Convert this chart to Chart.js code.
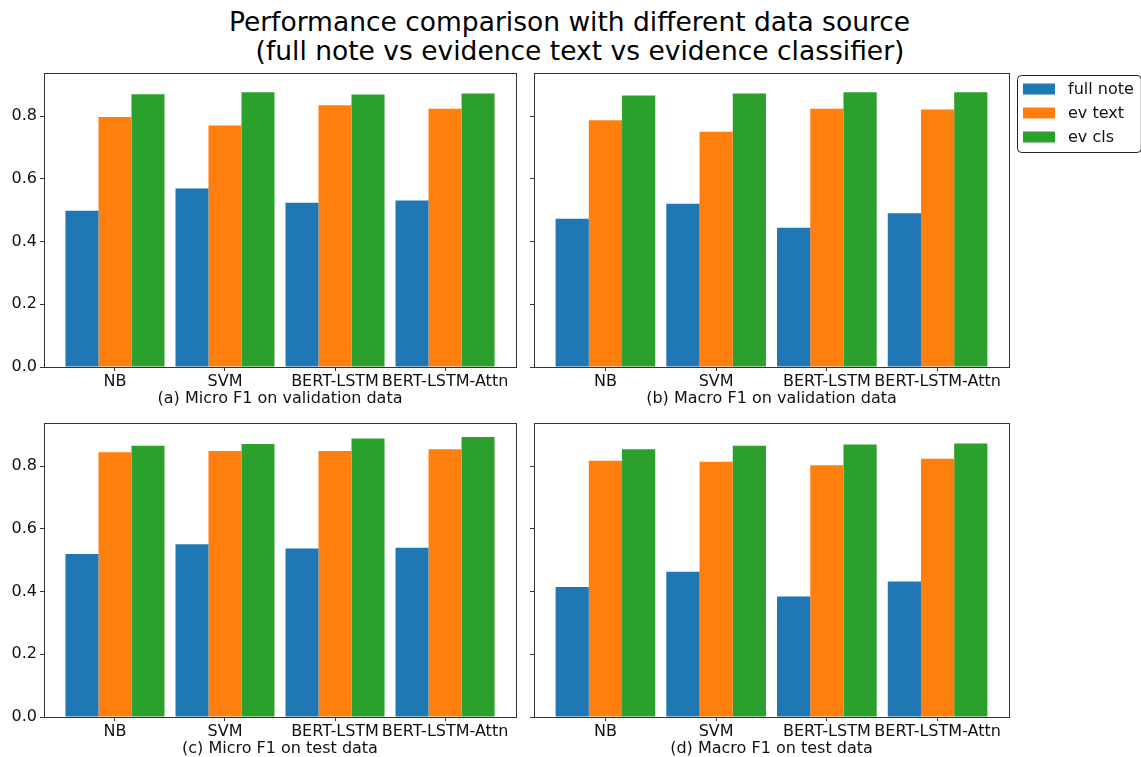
<!DOCTYPE html>
<html>
<head>
<meta charset="utf-8">
<script src="https://cdn.jsdelivr.net/npm/chart.js@4.4.1/dist/chart.umd.min.js"></script>
<style>
  html, body { margin: 0; padding: 0; background: #fff; }
  body { position: relative; width: 1141px; height: 757px; overflow: hidden; font-family: 'DejaVu Sans', sans-serif; }
  canvas { position: absolute; }
  .title { position: absolute; left: 0; text-align: center; font-size: 26.5px; line-height: 28.5px; color: #000; white-space: pre; }
</style>
</head>
<body>
<div class="title" style="top:8px;width:1139px">Performance comparison with different data source</div>
<div class="title" style="top:36.5px;width:1160px">(full note vs evidence text vs evidence classifier)</div>
<canvas id="panelA" width="520" height="348" style="left:0;top:60px"></canvas>
<canvas id="panelB" width="651" height="348" style="left:490px;top:60px"></canvas>
<canvas id="panelC" width="520" height="348" style="left:0;top:410px"></canvas>
<canvas id="panelD" width="651" height="348" style="left:490px;top:410px"></canvas>
<script>
// Models on the x axis and the three data sources compared
const categories = ['NB', 'SVM', 'BERT-LSTM', 'BERT-LSTM-Attn'];
const seriesNames = ['full note', 'ev text', 'ev cls'];
const seriesColors = ['#1f77b4', '#ff7f0e', '#2ca02c'];

// (a) Micro F1, validation
const microValFull = [0.498, 0.569, 0.524, 0.531];
const microValText = [0.797, 0.770, 0.835, 0.824];
const microValCls  = [0.870, 0.876, 0.869, 0.872];
// (b) Macro F1, validation
const macroValFull = [0.473, 0.521, 0.444, 0.490];
const macroValText = [0.787, 0.750, 0.824, 0.821];
const macroValCls  = [0.866, 0.872, 0.876, 0.876];
// (c) Micro F1, test
const microTestFull = [0.520, 0.551, 0.537, 0.540];
const microTestText = [0.844, 0.848, 0.848, 0.854];
const microTestCls  = [0.865, 0.871, 0.888, 0.893];
// (d) Macro F1, test
const macroTestFull = [0.415, 0.463, 0.384, 0.432];
const macroTestText = [0.817, 0.814, 0.803, 0.824];
const macroTestCls  = [0.854, 0.865, 0.869, 0.872];

const captions = [
  '(a) Micro F1 on validation data',
  '(b) Macro F1 on validation data',
  '(c) Micro F1 on test data',
  '(d) Macro F1 on test data'
];

const panels = [
  { id: 'panelA', caption: captions[0], series: [microValFull, microValText, microValCls], yLabels: true,  legend: false, padRight: 4 },
  { id: 'panelB', caption: captions[1], series: [macroValFull, macroValText, macroValCls], yLabels: false, legend: true,  padRight: 132 },
  { id: 'panelC', caption: captions[2], series: [microTestFull, microTestText, microTestCls], yLabels: true,  legend: false, padRight: 4 },
  { id: 'panelD', caption: captions[3], series: [macroTestFull, macroTestText, macroTestCls], yLabels: false, legend: false, padRight: 132 }
];

// Shared y range: 5% headroom above the tallest bar
const allValues = panels.flatMap(p => p.series.flat());
const yMax = Math.max(...allValues) * 1.05;

// Bars of width 0.3 around integer positions, 5% margin on the x range
const groupWidth = 0.9;
const n = categories.length;
const xSpan = (n - 1) + groupWidth;
const xMin = -groupWidth / 2 - 0.05 * xSpan;
const xMax = (n - 1) + groupWidth / 2 + 0.05 * xSpan;

const textColor = '#111';
const axisColor = '#333';

// Full box around the plotting area
const framePlugin = {
  id: 'frame',
  afterDatasetsDraw(chart) {
    const { ctx, chartArea: a } = chart;
    ctx.save();
    ctx.strokeStyle = axisColor;
    ctx.lineWidth = 1;
    const l = Math.round(a.left) + 0.5, t = Math.round(a.top) + 0.5;
    const r = Math.round(a.right) + 0.5, b = Math.round(a.bottom) + 0.5;
    ctx.strokeRect(l, t, r - l, b - t);
    ctx.restore();
  }
};

// Framed legend placed to the right of the plotting area
const boxLegendPlugin = {
  id: 'boxLegend',
  afterDraw(chart) {
    const { ctx, chartArea: a } = chart;
    const items = chart.data.datasets.map(d => ({ label: d.label, color: d.backgroundColor }));
    ctx.save();
    ctx.font = '16px "DejaVu Sans"';
    const textW = Math.max(...items.map(it => ctx.measureText(it.label).width));
    const rowH = 24;
    const L = Math.round(a.right) + 8, T = Math.round(a.top) + 2;
    const W = 6 + 32 + 13 + textW + 7;
    const H = 14 + rowH * (items.length - 1) + 15;
    ctx.fillStyle = '#fff';
    ctx.strokeStyle = '#222';
    ctx.lineWidth = 1;
    ctx.beginPath();
    ctx.roundRect(L + 0.5, T + 0.5, W, H, 4);
    ctx.fill();
    ctx.stroke();
    ctx.textBaseline = 'middle';
    ctx.textAlign = 'left';
    items.forEach((it, i) => {
      const cy = T + 14 + i * rowH;
      ctx.fillStyle = it.color;
      ctx.fillRect(L + 6, cy - 5.5, 32, 11);
      ctx.fillStyle = textColor;
      ctx.fillText(it.label, L + 51, cy + 1);
    });
    ctx.restore();
  }
};

Chart.defaults.font.family = "'DejaVu Sans', sans-serif";
Chart.defaults.font.size = 16;
Chart.defaults.color = textColor;

panels.forEach(p => {
  new Chart(document.getElementById(p.id), {
    type: 'bar',
    data: {
      datasets: p.series.map((vals, k) => ({
        label: seriesNames[k],
        data: vals.map((v, i) => ({ x: i, y: v })),
        backgroundColor: seriesColors[k],
        borderWidth: 0,
        categoryPercentage: groupWidth,
        barPercentage: 1.0
      }))
    },
    options: {
      responsive: false,
      animation: false,
      devicePixelRatio: 1,
      layout: { padding: { left: 0, right: p.padRight, top: 13, bottom: 0 } },
      plugins: { legend: { display: false }, tooltip: { enabled: false } },
      scales: {
        x: {
          type: 'linear',
          offset: false,
          min: xMin,
          max: xMax,
          grid: { offset: false, drawOnChartArea: false, drawTicks: true, tickLength: 4, color: axisColor, tickColor: axisColor },
          border: { display: false },
          ticks: {
            stepSize: 1,
            includeBounds: false,
            autoSkip: false,
            maxRotation: 0,
            minRotation: 0,
            padding: 1,
            color: textColor,
            font: { size: 16 },
            callback: v => (Number.isInteger(v) && categories[v] !== undefined) ? categories[v] : ''
          },
          title: { display: true, text: p.caption, color: textColor, font: { size: 16 }, padding: { top: 0, bottom: 0 } },
          afterFit: s => { s.height = 41; }
        },
        y: {
          min: 0,
          max: yMax,
          grid: { drawOnChartArea: false, drawTicks: true, tickLength: 4, color: axisColor, tickColor: axisColor },
          border: { display: false },
          ticks: {
            stepSize: 0.2,
            includeBounds: false,
            display: p.yLabels,
            padding: 3,
            color: textColor,
            font: { size: 16 },
            callback: v => v.toFixed(1)
          },
          afterFit: s => { s.width = 44; }
        }
      }
    },
    plugins: p.legend ? [framePlugin, boxLegendPlugin] : [framePlugin]
  });
});
</script>
</body>
</html>
